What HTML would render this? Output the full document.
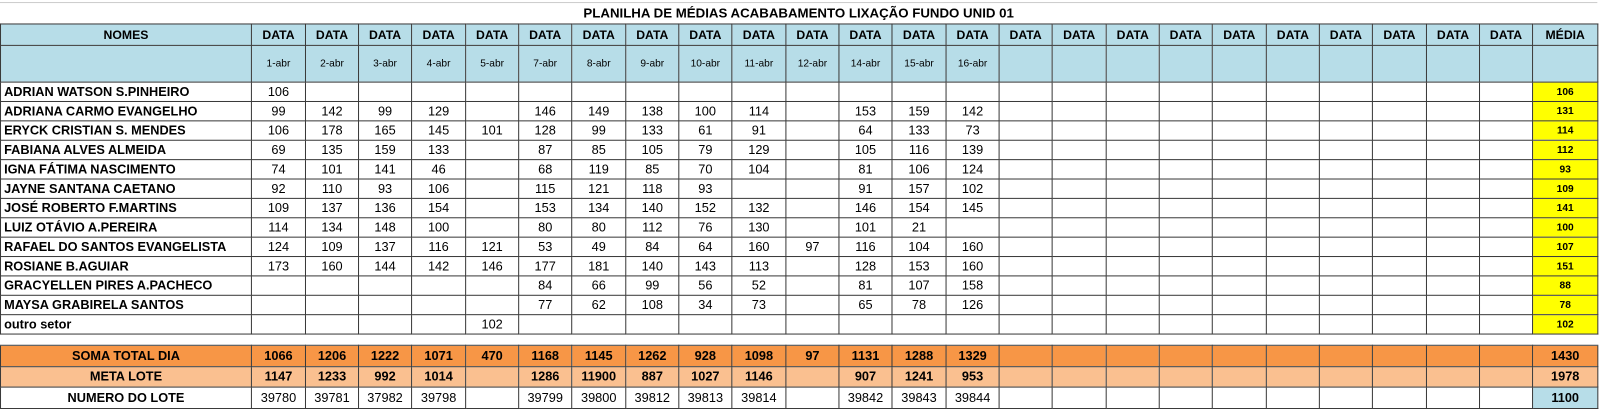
<!DOCTYPE html>
<html><head><meta charset="utf-8">
<style>
html,body{margin:0;padding:0;background:#fff;width:1600px;height:409px;overflow:hidden}
body{font-family:"Liberation Sans",sans-serif;}
#wrap{position:absolute;left:0;top:0;width:1566px;transform:scale(1.02);transform-origin:0 0}
#title{position:absolute;left:0;top:2px;width:1566px;height:20px;border-top:1px solid #ccc;text-align:center;font-weight:bold;font-size:13px;line-height:20px}
table{border-collapse:collapse;table-layout:fixed;position:absolute;left:0;top:23px;}
td{padding:0;border:1px solid #3a3a3a;text-align:center;font-size:12px;color:#000;white-space:nowrap;overflow:hidden}
td.nm{text-align:left;padding-left:3px;font-weight:bold;font-size:11.5px}
.h1 td{background:#b7dde8;font-weight:bold;font-size:12px;height:20px}
.h2 td{background:#b7dde8;font-size:10px;height:35px}
.dr td{height:18px;font-size:12.5px}
td.med{background:#ffff00;font-weight:bold;font-size:10px}
.gap td{height:10px;border-left:none;border-right:none}
.soma td{background:#f79646;font-weight:bold;height:19.5px;font-size:12.5px}
.meta td{background:#fac090;font-weight:bold;height:19.5px;font-size:12.5px}
.num td{height:19.5px;font-size:12.5px}
.num td.nb{font-weight:bold}
.num td.med2{background:#b7dde8;font-weight:bold}
</style></head>
<body>
<div id="wrap">
<div id="title">PLANILHA DE MÉDIAS ACABABAMENTO LIXAÇÃO FUNDO UNID 01</div>
<table id="sheet"></table>
</div>
<script>
const names=["ADRIAN WATSON S.PINHEIRO","ADRIANA CARMO EVANGELHO","ERYCK CRISTIAN S. MENDES","FABIANA ALVES ALMEIDA","IGNA FÁTIMA NASCIMENTO","JAYNE SANTANA CAETANO","JOSÉ ROBERTO F.MARTINS","LUIZ OTÁVIO A.PEREIRA","RAFAEL DO SANTOS EVANGELISTA","ROSIANE B.AGUIAR","GRACYELLEN PIRES A.PACHECO","MAYSA GRABIRELA SANTOS","outro setor"];
const dates=["1-abr","2-abr","3-abr","4-abr","5-abr","7-abr","8-abr","9-abr","10-abr","11-abr","12-abr","14-abr","15-abr","16-abr"];
const values=[
[106,"","","","","","","","","","","","",""],
[99,142,99,129,"",146,149,138,100,114,"",153,159,142],
[106,178,165,145,101,128,99,133,61,91,"",64,133,73],
[69,135,159,133,"",87,85,105,79,129,"",105,116,139],
[74,101,141,46,"",68,119,85,70,104,"",81,106,124],
[92,110,93,106,"",115,121,118,93,"","",91,157,102],
[109,137,136,154,"",153,134,140,152,132,"",146,154,145],
[114,134,148,100,"",80,80,112,76,130,"",101,21,""],
[124,109,137,116,121,53,49,84,64,160,97,116,104,160],
[173,160,144,142,146,177,181,140,143,113,"",128,153,160],
["","","","","",84,66,99,56,52,"",81,107,158],
["","","","","",77,62,108,34,73,"",65,78,126],
["","","","",102,"","","","","","","","",""]];
const medias=[106,131,114,112,93,109,141,100,107,151,88,78,102];
const soma=[1066,1206,1222,1071,470,1168,1145,1262,928,1098,97,1131,1288,1329];
const meta=[1147,1233,992,1014,"",1286,11900,887,1027,1146,"",907,1241,953];
const lote=[39780,39781,37982,39798,"",39799,39800,39812,39813,39814,"",39842,39843,39844];
const somaMedia=1430, metaMedia=1978, loteMedia=1100;
const NCOL=24;
const t=document.getElementById('sheet');
const cg=document.createElement('colgroup');
const widths=[246];
for(let i=0;i<NCOL;i++)widths.push(i%3===0?53:52);
widths.push(64);
widths.forEach(w=>{const c=document.createElement('col');c.style.width=w+'px';cg.appendChild(c);});
t.appendChild(cg);
let tw=widths.reduce((a,b)=>a+b,0);t.style.width=tw+'px';
function row(cls,name){const r=document.createElement('tr');r.className=cls;


t.appendChild(r);return r;}
function cell(r,txt,name,cls){const c=document.createElement('td');c.textContent=txt;if(cls)c.className=cls;


r.appendChild(c);return c;}
let r=row('h1','header-row');
let ci=0;
let c=cell(r,'NOMES','names-header');c.style.width=widths[ci++]+'px';
for(let i=0;i<NCOL;i++){c=cell(r,'DATA','date-header');c.style.width=widths[ci++]+'px';}
c=cell(r,'MÉDIA','average-header');c.style.width=widths[ci++]+'px';
r=row('h2','date-row');
cell(r,'','names-subheader');
for(let i=0;i<NCOL;i++)cell(r,dates[i]||'','date-cell');
cell(r,'','average-subheader');
names.forEach((n,k)=>{const rr=row('dr','employee-row');
cell(rr,n,'employee-name','nm');
for(let i=0;i<NCOL;i++)cell(rr,i<values[k].length?values[k][i]:'','value-cell');
cell(rr,medias[k],'employee-average','med');});
r=row('gap','spacer-row');c=cell(r,'','spacer');c.colSpan=NCOL+2;
function totRow(cls,label,arr,m,mcls,rn){const rr=row(cls,rn);
cell(rr,label,rn+'-label','nb');
for(let i=0;i<NCOL;i++)cell(rr,i<arr.length?arr[i]:'',rn+'-cell');
cell(rr,m,rn+'-average',mcls);}
totRow('soma','SOMA TOTAL DIA',soma,somaMedia,'','daily-total');
totRow('meta','META LOTE',meta,metaMedia,'','batch-target');
totRow('num','NUMERO DO LOTE',lote,loteMedia,'med2','batch-number');
</script>
</body></html>
